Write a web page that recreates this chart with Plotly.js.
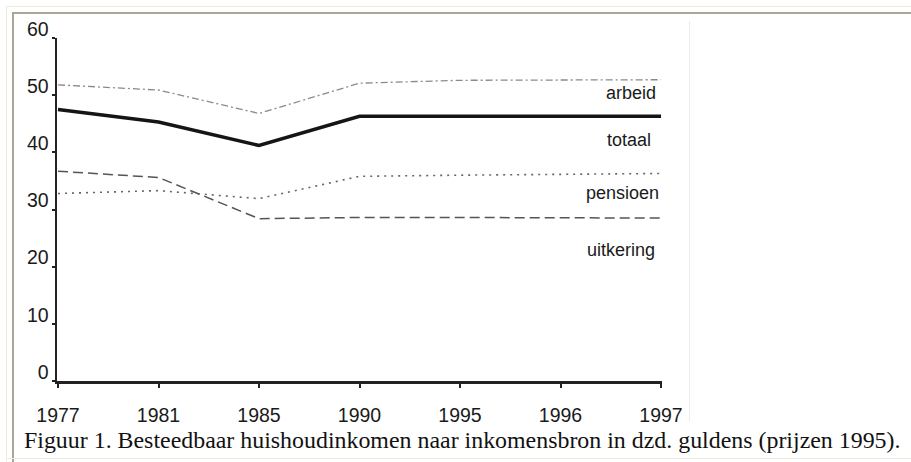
<!DOCTYPE html>
<html>
<head>
<meta charset="utf-8">
<script src="https://cdn.plot.ly/plotly-3.0.1.min.js"></script>
<style>
  html, body { margin: 0; padding: 0; background: #ffffff; }
  #wrap { position: relative; width: 911px; height: 462px; overflow: hidden; }
  #chart { position: absolute; left: 0; top: 0; width: 911px; height: 462px; }
  .ln { position: absolute; pointer-events: none; }
</style>
</head>
<body>
<div id="wrap">
  <div id="chart"></div>
  <div class="ln" style="left:6px;top:6px;width:905px;height:1px;background:#eeecdc;"></div>
  <div class="ln" style="left:6px;top:6px;width:1px;height:456px;background:#eeecdc;"></div>
  <div class="ln" style="left:12px;top:12px;width:899px;height:2px;background:#aaa698;"></div>
  <div class="ln" style="left:12px;top:12px;width:2px;height:450px;background:#aaa698;"></div>
  <div class="ln" style="left:6px;top:458px;width:905px;height:1px;background:#eeecdc;"></div>
  <div class="ln" style="left:689px;top:21px;width:1px;height:400px;background:#ececec;"></div>
</div>
<script>
// ---- data ----
const years = ["1977", "1981", "1985", "1990", "1995", "1996", "1997"];
const arbeid    = [51.8, 50.9, 46.8, 52.1, 52.6, 52.6, 52.7];
const totaal    = [47.5, 45.3, 41.2, 46.3, 46.3, 46.3, 46.3];
const pensioen  = [32.8, 33.3, 31.9, 35.8, 36.0, 36.2, 36.3];
const uitkering = [36.7, 35.6, 28.4, 28.6, 28.6, 28.6, 28.5];
const seriesNames = ["arbeid", "totaal", "pensioen", "uitkering"];
const yTicks = [0, 10, 20, 30, 40, 50, 60];
const caption = "Figuur 1. Besteedbaar huishoudinkomen naar inkomensbron in dzd. guldens (prijzen 1995).";

// ---- layout geometry (pixels) ----
const L = 57, R = 662, T = 38, B = 381;
const W = 911, H = 462;
const px2x = p => (p - L) / (R - L);
const py2y = p => (B - p) / (B - T);

const traces = [
  { x: years, y: arbeid, mode: "lines", line: { color: "#8a8a8a", width: 1.3, dash: "7px,3px,2px,3px" } },
  { x: years, y: totaal, mode: "lines", line: { color: "#151515", width: 3.6 } },
  { x: years, y: pensioen, mode: "lines", line: { color: "#666666", width: 1.6, dash: "2px,5px" } },
  { x: years, y: uitkering, mode: "lines", line: { color: "#555555", width: 1.5, dash: "10px,5px" } }
].map(t => Object.assign(t, { type: "scatter", hoverinfo: "skip", showlegend: false }));

// label positions (pixel right edge, vertical centre)
const labelPos = [[658, 93], [653, 140], [661, 193], [657, 250]];

const annotations = seriesNames.map((name, i) => ({
  text: name, xref: "paper", yref: "paper",
  x: px2x(labelPos[i][0]), y: py2y(labelPos[i][1]),
  xanchor: "right", yanchor: "middle", showarrow: false,
  font: { family: "Liberation Sans, Arial, sans-serif", size: 18, color: "#1a1a1a" }
}));
annotations.push({
  text: caption, xref: "paper", yref: "paper",
  x: px2x(22), y: py2y(440), xanchor: "left", yanchor: "middle", showarrow: false,
  font: { family: "Liberation Serif, Times New Roman, serif", size: 23.9, color: "#111111" }
});

const layout = {
  width: W, height: H,
  margin: { l: L, r: W - R, t: T, b: H - B, pad: 0 },
  paper_bgcolor: "#ffffff", plot_bgcolor: "#ffffff",
  showlegend: false,
  xaxis: {
    type: "category", range: [-0.01, 6.01],
    showgrid: false, zeroline: false,
    showline: true, linecolor: "#222222", linewidth: 2.5,
    ticks: "outside", ticklen: 4, tickwidth: 2, tickcolor: "#222222",
    ticklabelstandoff: 11,
    tickfont: { family: "Liberation Sans, Arial, sans-serif", size: 19.5, color: "#1a1a1a" }
  },
  yaxis: {
    range: [0, 60], tickvals: yTicks, ticktext: yTicks.map(String),
    showgrid: false, zeroline: false,
    showline: true, linecolor: "#222222", linewidth: 2.5,
    ticks: "outside", ticklen: 3, tickwidth: 2, tickcolor: "#222222",
    ticklabelshift: -9, ticklabelstandoff: -1,
    tickfont: { family: "Liberation Sans, Arial, sans-serif", size: 19.5, color: "#1a1a1a" }
  },
  annotations: annotations
};

Plotly.newPlot("chart", traces, layout, { staticPlot: true, displayModeBar: false });
</script>
</body>
</html>
